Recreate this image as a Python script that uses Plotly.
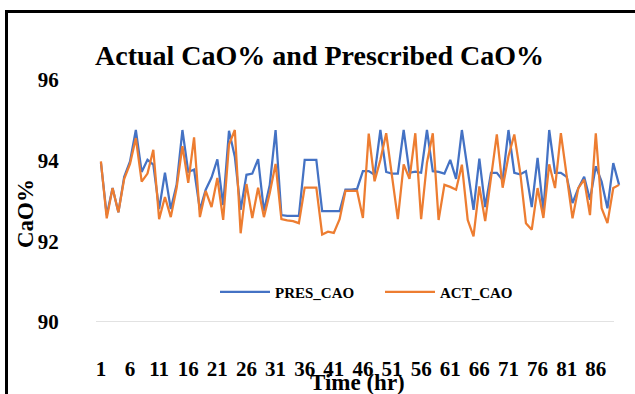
import plotly.graph_objects as go

hours = list(range(1, 91))

pres_cao = [
    93.95, 92.65, 93.32, 92.72, 93.60, 93.98, 94.76, 93.72, 94.02, 93.90,
    92.80, 93.70, 92.80, 93.40, 94.76, 93.72, 93.78, 92.78, 93.28, 93.58,
    94.03, 92.90, 94.74, 94.10, 92.78, 93.65, 93.68, 94.04, 92.75, 93.40,
    94.76, 92.65, 92.63, 92.63, 92.63, 94.02, 94.02, 94.02, 92.75, 92.75,
    92.75, 92.75, 93.28, 93.28, 93.30, 93.74, 93.74, 93.65, 94.76, 93.72,
    93.68, 93.68, 94.76, 93.70, 93.73, 93.70, 94.76, 93.74, 93.72, 93.68,
    94.02, 93.55, 94.76, 93.75, 92.78, 94.05, 92.85, 93.70, 93.70, 93.52,
    94.76, 93.70, 93.66, 93.74, 92.85, 94.07, 92.75, 94.76, 93.70, 93.70,
    93.60, 92.95, 93.32, 93.60, 93.03, 93.86, 93.48, 92.82, 93.94, 93.40,
]

act_cao = [
    93.98, 92.57, 93.32, 92.72, 93.55, 93.92, 94.56, 93.48, 93.68, 94.27,
    92.55, 93.10, 92.60, 93.32, 94.36, 93.45, 94.58, 92.60, 93.25, 92.85,
    93.57, 92.53, 94.40, 94.76, 92.20, 93.42, 92.58, 93.33, 92.60, 93.20,
    93.92, 92.55, 92.52, 92.50, 92.45, 93.33, 93.33, 93.33, 92.17, 92.24,
    92.21, 92.55, 93.25, 93.25, 93.25, 92.58, 94.67, 93.49, 94.02, 94.68,
    93.60, 92.55, 93.91, 93.55, 94.68, 92.55, 93.95, 94.68, 92.53, 93.40,
    93.35, 93.28, 93.90, 92.53, 92.12, 93.36, 92.50, 93.63, 94.65, 93.33,
    94.11, 94.65, 93.72, 92.45, 92.29, 93.32, 92.58, 93.91, 93.32, 94.68,
    93.61, 92.57, 93.32, 93.53, 92.65, 94.68, 92.82, 92.45, 93.32, 93.40,
]

x_ticks = list(range(1, 90, 5))
x_tick_labels = [str(v) for v in x_ticks]
y_ticks = [90, 92, 94, 96]

FONT = "Liberation Serif"
W, H = 635, 394
L, R, T, B = 98, 13, 80, 72

fig = go.Figure()
fig.add_trace(go.Scatter(x=hours, y=pres_cao, mode="lines", name="PRES_CAO",
                         line=dict(color="#4472C4", width=2.25)))
fig.add_trace(go.Scatter(x=hours, y=act_cao, mode="lines", name="ACT_CAO",
                         line=dict(color="#ED7D31", width=2.25)))

pw = W - L - R
ph = H - T - B
def px_x(p):
    return (p - L) / pw
def px_y(p):
    return (H - B - p) / ph

fig.update_layout(
    width=W, height=H,
    margin=dict(l=L, r=R, t=T, b=B),
    paper_bgcolor="white", plot_bgcolor="white",
    font=dict(family=FONT, color="black"),
    showlegend=True,
    legend=dict(orientation="h", x=px_x(380), xanchor="center", y=px_y(292), yanchor="middle",
                font=dict(family=FONT, size=15, color="black", weight="bold"),
                bgcolor="rgba(0,0,0,0)", itemwidth=50, tracegroupgap=0,
                entrywidth=100, entrywidthmode="pixels"),
    title=dict(text="<b>Actual CaO% and Prescribed CaO%</b>", x=95 / W, xanchor="left",
               y=1 - 55 / H, yanchor="middle",
               font=dict(family=FONT, size=28, color="black")),
    xaxis=dict(range=[0.5, 90.5], tickmode="array", tickvals=x_ticks, ticktext=x_tick_labels,
               showgrid=False, zeroline=False, showline=False, ticks="",
               tickfont=dict(family=FONT, size=21, color="black", weight="bold"),
               ticklabelstandoff=32),
    yaxis=dict(range=[90, 96], tickmode="array", tickvals=y_ticks,
               showgrid=False, zeroline=False, showline=False,
               ticks="outside", ticklen=34, tickcolor="rgba(0,0,0,0)",
               tickfont=dict(family=FONT, size=21, color="black", weight="bold")),
    shapes=[
        dict(type="line", xref="paper", yref="y", x0=px_x(96), x1=px_x(614), y0=90, y1=90,
             line=dict(color="#d9d9d9", width=1.5), layer="below"),
        dict(type="line", xref="paper", yref="paper", x0=px_x(6.5), x1=px_x(6.5),
             y0=px_y(11), y1=px_y(400), line=dict(color="black", width=3)),
        dict(type="line", xref="paper", yref="paper", x0=px_x(5), x1=px_x(640),
             y0=px_y(11.5), y1=px_y(11.5), line=dict(color="black", width=3)),
    ],
    annotations=[
        dict(text="<b>Time (hr)</b>", xref="paper", yref="paper", x=px_x(357), y=px_y(382),
             xanchor="center", yanchor="middle", showarrow=False,
             font=dict(family=FONT, size=23, color="black")),
        dict(text="<b>CaO%</b>", xref="paper", yref="paper", x=px_x(26), y=px_y(214),
             xanchor="center", yanchor="middle", showarrow=False, textangle=-90,
             font=dict(family=FONT, size=23, color="black")),
    ],
)

fig.write_html("out.html")
